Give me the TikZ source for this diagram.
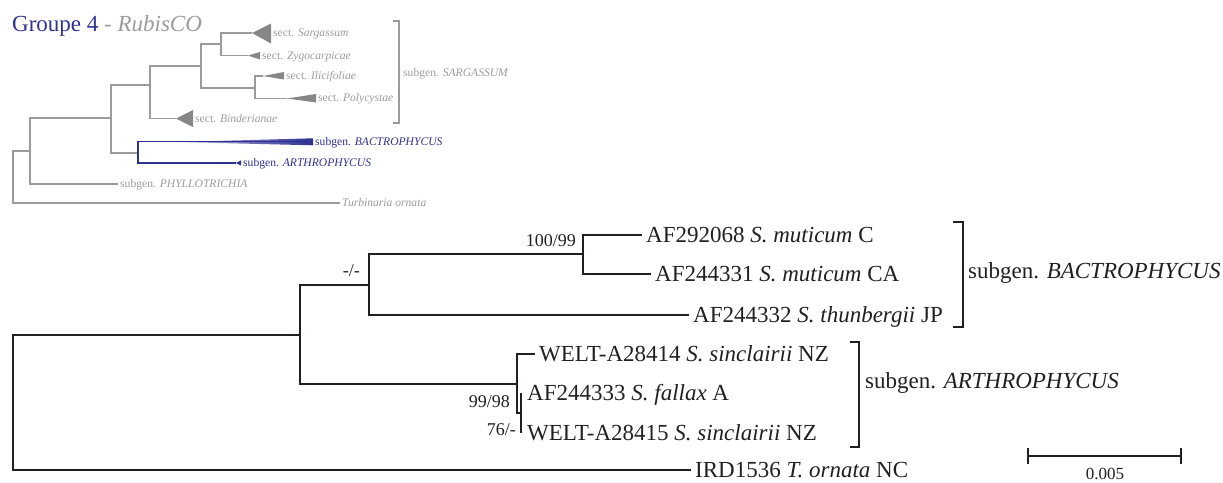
\documentclass[tikz,border=0pt]{standalone}
\usepackage{fontspec}
\setmainfont{Liberation Serif}
\definecolor{gblue}{RGB}{46,49,146}
\definecolor{ggray}{RGB}{155,155,155}
\definecolor{gtri}{RGB}{135,135,135}
\definecolor{ink}{RGB}{35,31,32}
\tikzset{
  br/.style={line width=1.4pt, draw=ink},
  ib/.style={line width=1.1pt, draw=ggray},
  ibb/.style={line width=1.1pt, draw=gblue},
  tip/.style={anchor=west, inner xsep=4pt, inner ysep=0pt, font=\fontsize{23}{27}\selectfont, text height=15.5pt, text depth=0.5pt, text=ink},
  grp/.style={anchor=west, inner xsep=0pt, inner ysep=0pt, font=\fontsize{23}{27}\selectfont, text=ink},
  bs/.style={anchor=base east, inner sep=0pt, font=\fontsize{18}{20}\selectfont, text=ink},
  itip/.style={anchor=west, inner xsep=2pt, inner ysep=0pt, font=\fontsize{11.6}{13}\selectfont, text height=7.8pt, text depth=0.2pt, text=ggray},
  ibtip/.style={itip, text=gblue},
}
\begin{document}
\begin{tikzpicture}[x=1pt,y=-1pt]
\useasboundingbox (0,0) rectangle (1223,482);

% ---------------- main tree ----------------
\coordinate (R) at (13,402.5);
\coordinate (A) at (300,335);
\coordinate (B) at (369,285);
\coordinate (D) at (583,254);
\coordinate (Cc) at (517,384);
\coordinate (E) at (521,413);

\node[tip] (t1) at (642,235) {AF292068 \textit{S. muticum} C};
\node[tip] (t2) at (651,274) {AF244331 \textit{S. muticum} CA};
\node[tip] (t3) at (689,315) {AF244332 \textit{S. thunbergii} JP};
\node[tip] (t4) at (535,354) {WELT-A28414 \textit{S. sinclairii} NZ};
\node[tip, inner xsep=6pt] (t5) at (521,393) {AF244333 \textit{S. fallax} A};
\node[tip, inner xsep=6pt] (t6) at (521,433) {WELT-A28415 \textit{S. sinclairii} NZ};
\node[tip] (t7) at (691,470) {IRD1536 \textit{T. ornata} NC};

\draw[br] (t1.west) -| (D) |- (t2.west);
\draw[br] (D) -| (B) |- (t3.west);
\draw[br] (t5.west) -| (E) |- (t6.west);
\draw[br] (t4.west) -| (Cc) |- (E);
\draw[br] (B) -| (A) |- (Cc);
\draw[br] (A) -| (R) |- (t7.west);

\node[bs] (l1) at (576,246) {100/99};
\node[bs] (l2) at (360,276) {-/-};
\node[bs] (l3) at (510,407) {99/98};
\node[bs] (l4) at (516,435) {76/-};

% brackets
\coordinate (k1a) at (953,222); \coordinate (k1b) at (963,222);
\coordinate (k1c) at (963,327); \coordinate (k1d) at (953,327);
\draw[br] (k1a) -- (k1b) -- (k1c) -- (k1d);
\node[grp] (g1) at (968,273) {subgen. \textit{BACTROPHYCUS}};
\coordinate (k2a) at (850,342); \coordinate (k2b) at (859,342);
\coordinate (k2c) at (859,447); \coordinate (k2d) at (850,447);
\draw[br] (k2a) -- (k2b) -- (k2c) -- (k2d);
\node[grp] (g2) at (865,383) {subgen. \textit{ARTHROPHYCUS}};

% scale bar
\coordinate (sa) at (1028,456); \coordinate (sb) at (1181,456);
\draw[br] (sa) -- (sb);
\draw[br] ([yshift=8pt]sa) -- ([yshift=-8pt]sa);
\draw[br] ([yshift=8pt]sb) -- ([yshift=-8pt]sb);
\node[font=\fontsize{17}{19}\selectfont, text=ink, inner sep=0pt] (sl) at (1105,474) {0.005};

% ---------------- inset ----------------
\node[anchor=west, inner sep=0pt, font=\fontsize{23}{27}\selectfont] (title) at (12,26)
  {\textcolor{gblue}{Groupe 4}\textcolor{ggray}{\ -\ \textit{RubisCO}}};

\coordinate (iR) at (13,177);
\coordinate (iA) at (30,151);
\coordinate (iB) at (111,118);
\coordinate (iBl) at (138,153);
\coordinate (iC) at (150,85);
\coordinate (iD) at (201,66);
\coordinate (iE) at (221,44);
\coordinate (iF) at (255,88);

% triangle apexes (collapsed clades)
\coordinate (pS) at (252,33);
\coordinate (pZ) at (248,55.5);
\coordinate (pI) at (263,76);
\coordinate (pP) at (287,98.5);
\coordinate (pBi) at (176,118.5);
\coordinate (pBa) at (177,142);
\coordinate (pAr) at (236,163);

\node[itip] (nS) at (271,33) {sect. \textit{Sargassum}};
\node[itip] (nZ) at (260,55.5) {sect. \textit{Zygocarpicae}};
\node[itip] (nI) at (284,75.5) {sect. \textit{Ilicifoliae}};
\node[itip] (nP) at (316,98) {sect. \textit{Polycystae}};
\node[itip] (nBi) at (193,118.5) {sect. \textit{Binderianae}};
\node[ibtip] (nBa) at (313,141.5) {subgen. \textit{BACTROPHYCUS}};
\node[ibtip] (nAr) at (241,162.5) {subgen. \textit{ARTHROPHYCUS}};
\node[itip] (nPh) at (118,184) {subgen. \textit{PHYLLOTRICHIA}};
\node[itip] (nT) at (340,203) {\textit{Turbinaria ornata}};

\fill[gtri] (pS) -- (271,23.5) -- (271,43.5) -- cycle;
\fill[gtri] (pZ) -- (260,52) -- (260,59.5) -- cycle;
\fill[gtri] (pI) -- (284,72) -- (284,79.5) -- cycle;
\fill[gtri] (pP) -- (316,94) -- (316,102.5) -- cycle;
\fill[gtri] (pBi) -- (193,110) -- (193,127) -- cycle;
\shade[left color=gblue!35, right color=gblue] (pBa) -- (313,138.3) -- (313,145.3) -- cycle;
\fill[gblue] (pAr) -- (241,160.3) -- (241,165.5) -- cycle;

\draw[ib] (pS) -| (iE) |- (pZ);
\draw[ib] (pI) -| (iF) |- (pP);
\draw[ib] (iE) -| (iD) |- (iF);
\draw[ib] (iD) -| (iC) |- (pBi);
\draw[ib] (iC) -| (iB) |- (iBl);
\draw[ibb] (nBa.west) -| (iBl) |- (pAr);
\draw[ib] (iB) -| (iA) |- (nPh.west);
\draw[ib] (iA) -| (iR) |- (nT.west);

\coordinate (k3a) at (393,21); \coordinate (k3b) at (399,21);
\coordinate (k3c) at (399,123); \coordinate (k3d) at (393,123);
\draw[ib] (k3a) -- (k3b) -- (k3c) -- (k3d);
\node[itip, inner xsep=0pt] (g3) at (403,73) {subgen. \textit{SARGASSUM}};
\end{tikzpicture}
\end{document}
